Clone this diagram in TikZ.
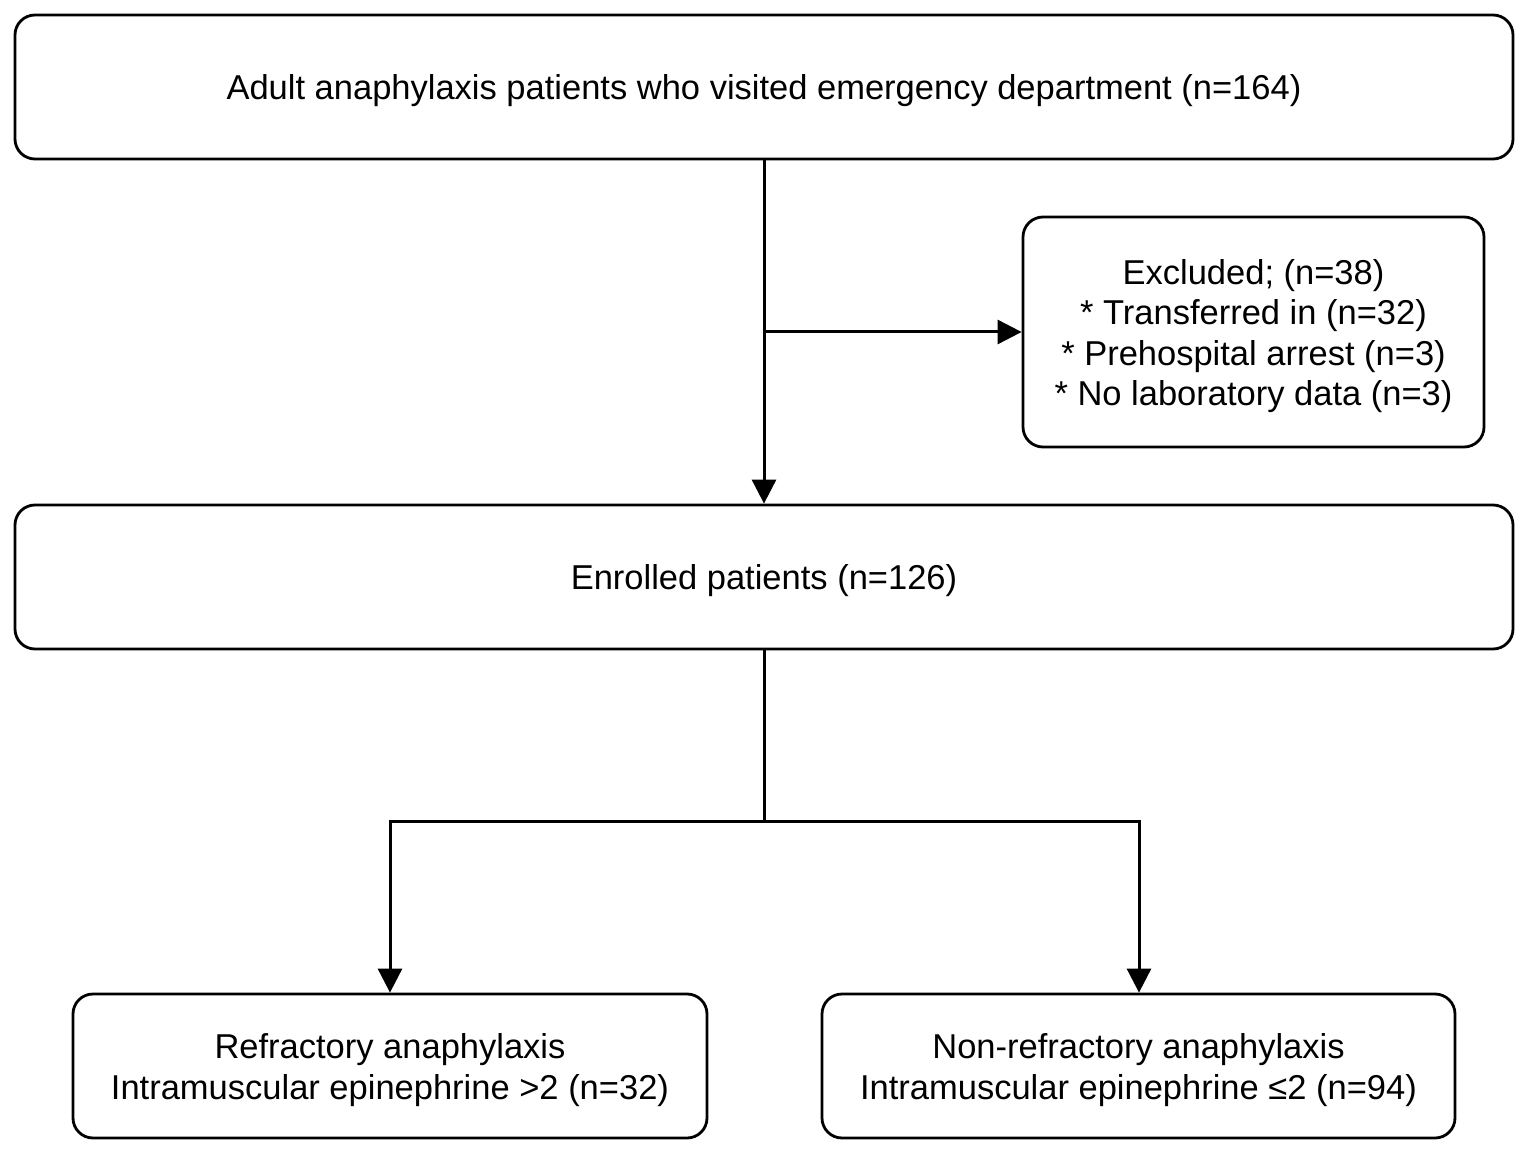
\documentclass[tikz,border=0pt]{standalone}
\usepackage{fontspec}
\setmainfont{Liberation Sans}
\usetikzlibrary{arrows.meta}
\begin{document}
\begin{tikzpicture}[x=1pt,y=-1pt,
  box/.style={draw=black,line width=2.8pt,rounded corners=20pt,fill=white,inner sep=0pt},
  txt/.style={align=center,inner sep=0pt,font=\fontsize{34.5}{40.5}\selectfont},
  conn/.style={line width=3pt,-{Triangle[length=24pt,width=24pt]}},
  plain/.style={line width=3pt}]
\useasboundingbox[fill=white] (0,0) rectangle (1529,1155);
\node[box,minimum width=1498pt,minimum height=144pt] (top) at (764,87) {};
\node[txt] (topt) at ([yshift=-4pt]top.center)
  {Adult anaphylaxis patients who visited emergency department (n=164)};
\node[box,minimum width=461pt,minimum height=230pt] (exc) at (1253.5,332) {};
\node[txt] (exct) at ([yshift=-4pt]exc.center)
  {Excluded; (n=38)\\* Transferred in (n=32)\\* Prehospital arrest (n=3)\\* No laboratory data (n=3)};
\node[box,minimum width=1498pt,minimum height=144pt] (enr) at (764,577) {};
\node[txt] (enrt) at ([yshift=-4pt]enr.center) {Enrolled patients (n=126)};
\node[box,minimum width=634pt,minimum height=144pt] (ref) at (390,1066) {};
\node[txt] (reft) at ([yshift=-4pt]ref.center)
  {Refractory anaphylaxis\\Intramuscular epinephrine >2 (n=32)};
\node[box,minimum width=633pt,minimum height=144pt] (non) at (1138.5,1066) {};
\node[txt] (nont) at ([yshift=-4pt]non.center)
  {Non-refractory anaphylaxis\\Intramuscular epinephrine ≤2 (n=94)};
\coordinate (j1) at (764,332);
\coordinate (j2) at (764,821);
\draw[conn] (top.south) -- (enr.north);
\draw[conn] (j1) -- (exc.west);
\draw[plain] (enr.south) -- (j2);
\draw[conn] (j2) -| (ref.north);
\draw[conn] (j2) -| ([xshift=0.5pt]non.north);
\end{tikzpicture}
\end{document}
